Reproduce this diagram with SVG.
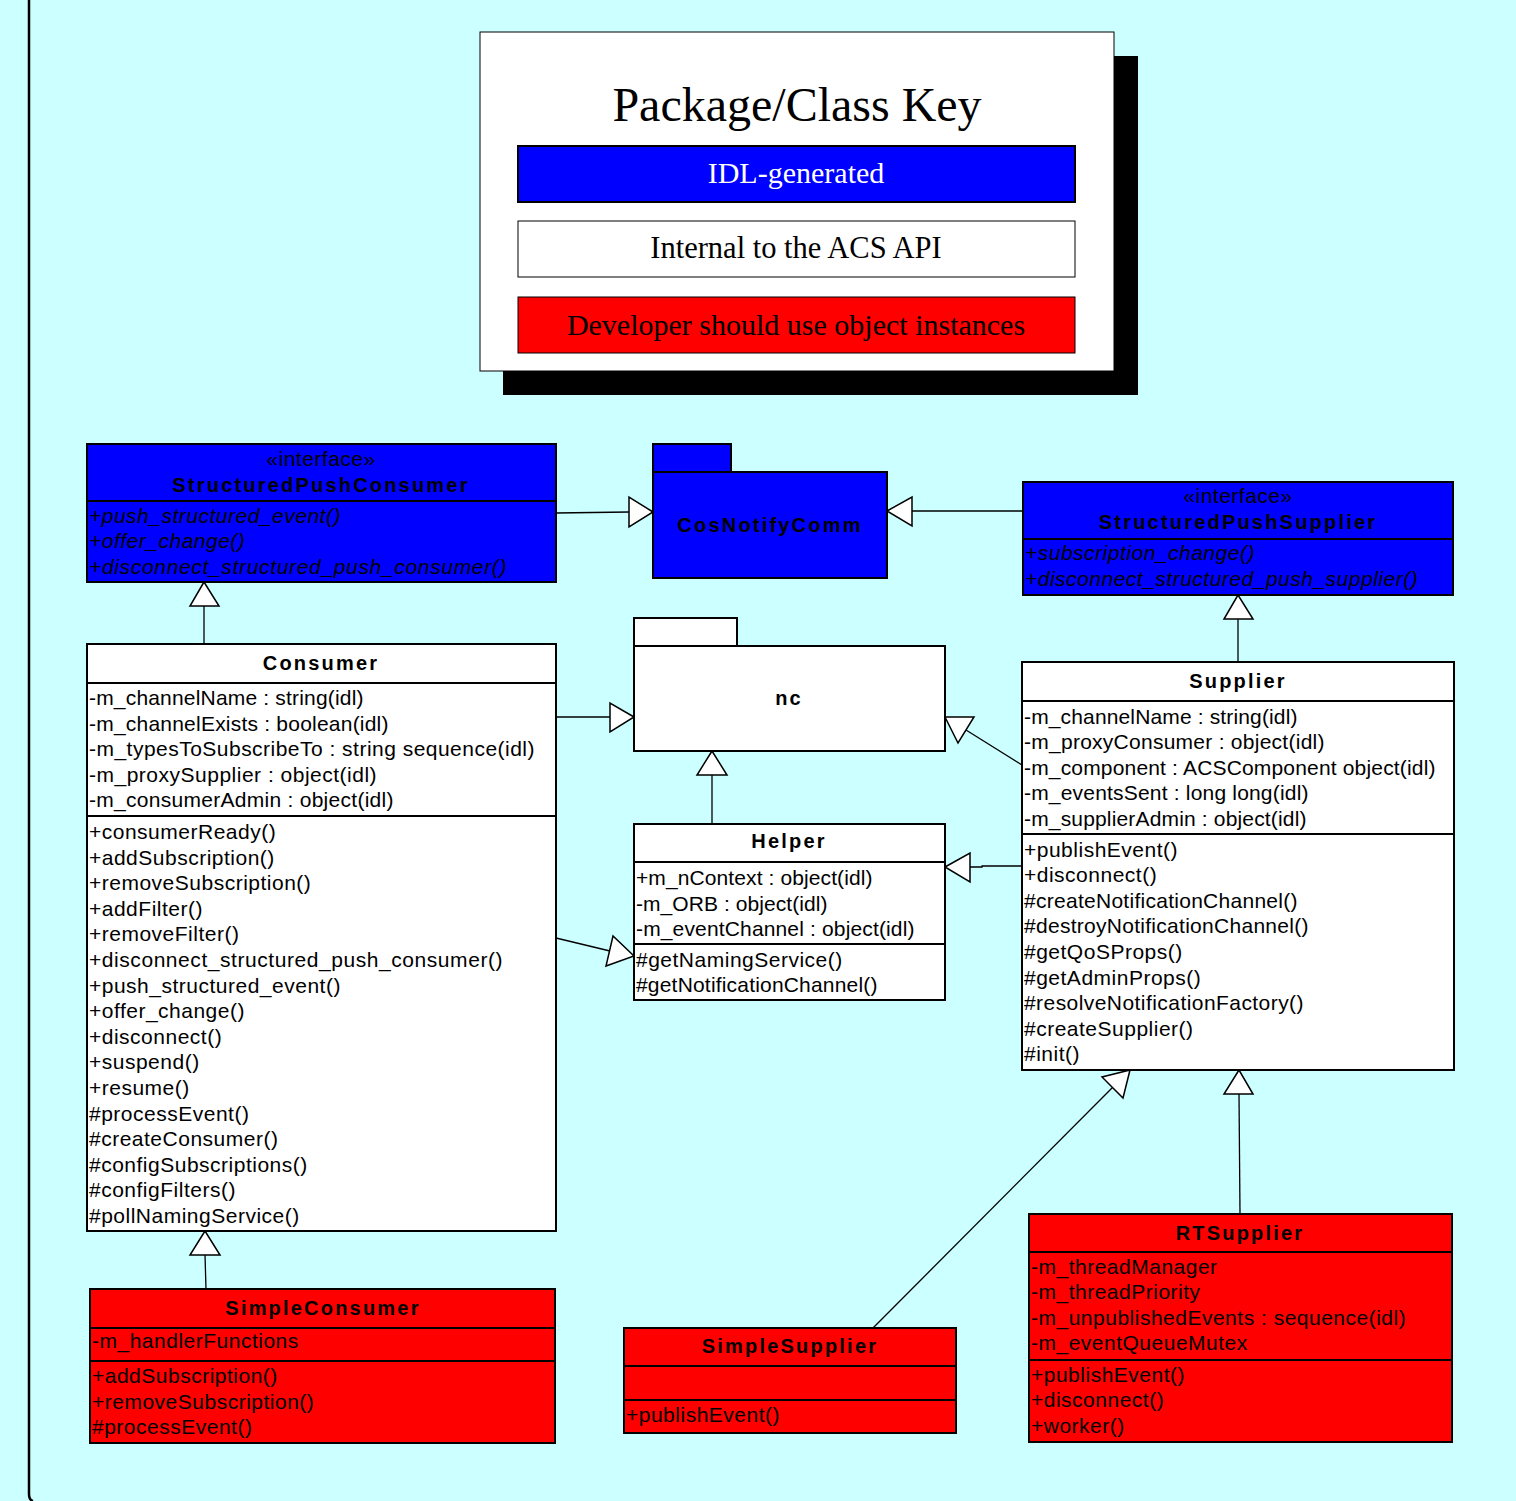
<svg xmlns="http://www.w3.org/2000/svg" width="1516" height="1501" viewBox="0 0 1516 1501">
<style>
.box{stroke:#000;stroke-width:2}
.w{fill:#fff}.b{fill:#0000ff}.r{fill:#ff0000}
.t{font-family:"Liberation Sans",Arial,sans-serif;font-size:21px;letter-spacing:0.5px;fill:#000}
.i{font-style:italic}
.n{font-family:"Liberation Sans",Arial,sans-serif;font-size:20px;font-weight:bold;letter-spacing:2.2px;fill:#000;text-anchor:middle}
.s{font-family:"Liberation Sans",Arial,sans-serif;font-size:21px;letter-spacing:0.5px;fill:#000;text-anchor:middle}
.k{font-family:"Liberation Serif","Times New Roman",serif;text-anchor:middle}
.ln{fill:none;stroke:#000;stroke-width:1.3}
.tri{fill:#fff;stroke:#000;stroke-width:1.5}
</style>
<rect width="1516" height="1501" fill="#ccffff"/>
<path d="M29,0 V1494 Q29,1500 33,1501" fill="none" stroke="#000" stroke-width="2.5"/>

<g id="key">
<rect x="503" y="56" width="635" height="339" fill="#000"/>
<rect x="480" y="32" width="634" height="339" fill="#fff" stroke="#000" stroke-width="1"/>
<text class="k" x="797" y="121" font-size="48">Package/Class Key</text>
<rect x="518" y="146" width="557" height="56" class="box b" stroke-width="1"/>
<text class="k" x="796" y="183" font-size="30" fill="#fff">IDL-generated</text>
<rect x="518" y="221" width="557" height="56" fill="#fff" stroke="#000" stroke-width="1"/>
<text class="k" x="796" y="258" font-size="30.5">Internal to the ACS API</text>
<rect x="518" y="297" width="557" height="56" class="r" stroke="#000" stroke-width="1"/>
<text class="k" x="796" y="335" font-size="30">Developer should use object instances</text>
</g>

<g id="connectors">
<line class="ln" x1="556" y1="513" x2="629" y2="512"/>
<polygon class="tri" points="653,512 629,497 629,527"/>
<line class="ln" x1="1023" y1="511" x2="912" y2="511"/>
<polygon class="tri" points="887,511 912,497 912,526"/>
<line class="ln" x1="204" y1="644" x2="204" y2="606"/>
<polygon class="tri" points="204,582 190,606 219,606"/>
<line class="ln" x1="556" y1="717" x2="610" y2="717"/>
<polygon class="tri" points="634,717 610,703 610,732"/>
<line class="ln" x1="556" y1="938" x2="610" y2="951"/>
<polygon class="tri" points="634,956 613,936 606,966"/>
<line class="ln" x1="712" y1="824" x2="712" y2="775"/>
<polygon class="tri" points="712,751 697,775 727,775"/>
<line class="ln" x1="1238" y1="662" x2="1238" y2="619"/>
<polygon class="tri" points="1238,595 1224,619 1253,619"/>
<line class="ln" x1="1022" y1="765" x2="966" y2="730"/>
<polygon class="tri" points="945,717 974,717 958,743"/>
<polyline class="ln" points="1022,866 982,866 982,867 970,867"/>
<polygon class="tri" points="945,867 970,853 970,882"/>
<line class="ln" x1="206" y1="1289" x2="205" y2="1255"/>
<polygon class="tri" points="205,1231 190,1255 220,1255"/>
<line class="ln" x1="873" y1="1328" x2="1113" y2="1087"/>
<polygon class="tri" points="1130,1070 1102,1077 1123,1098"/>
<line class="ln" x1="1240" y1="1214" x2="1239" y2="1094"/>
<polygon class="tri" points="1239,1070 1224,1094 1253,1094"/>
</g>

<g id="StructuredPushConsumer">
<rect x="87" y="444" width="469" height="138" class="box b"/>
<line x1="87" y1="501" x2="556" y2="501" stroke="#000" stroke-width="2"/>
<text class="s" x="321" y="466">«interface»</text>
<text class="n" x="321" y="492">StructuredPushConsumer</text>
<text class="t i" x="89" y="523">+push_structured_event()</text>
<text class="t i" x="89" y="548">+offer_change()</text>
<text class="t i" x="89" y="574" textLength="418">+disconnect_structured_push_consumer()</text>
</g>

<g id="CosNotifyComm">
<rect x="653" y="444" width="78" height="28" class="box b"/>
<rect x="653" y="472" width="234" height="106" class="box b"/>
<text class="n" x="770" y="532">CosNotifyComm</text>
</g>

<g id="StructuredPushSupplier">
<rect x="1023" y="482" width="430" height="113" class="box b"/>
<line x1="1023" y1="539" x2="1453" y2="539" stroke="#000" stroke-width="2"/>
<text class="s" x="1238" y="503">«interface»</text>
<text class="n" x="1238" y="529">StructuredPushSupplier</text>
<text class="t i" x="1025" y="560">+subscription_change()</text>
<text class="t i" x="1025" y="586">+disconnect_structured_push_supplier()</text>
</g>

<g id="nc">
<rect x="634" y="618" width="103" height="28" class="box w"/>
<rect x="634" y="646" width="311" height="105" class="box w"/>
<text class="n" x="789" y="705">nc</text>
</g>

<g id="Consumer">
<rect x="87" y="644" width="469" height="587" class="box w"/>
<line x1="87" y1="683" x2="556" y2="683" stroke="#000" stroke-width="2"/>
<line x1="87" y1="816" x2="556" y2="816" stroke="#000" stroke-width="2"/>
<text class="n" x="321" y="670">Consumer</text>
<text class="t" x="89" y="705" textLength="275">-m_channelName : string(idl)</text>
<text class="t" x="89" y="730.6" textLength="300">-m_channelExists : boolean(idl)</text>
<text class="t" x="89" y="756.2" textLength="446">-m_typesToSubscribeTo : string sequence(idl)</text>
<text class="t" x="89" y="781.8">-m_proxySupplier : object(idl)</text>
<text class="t" x="89" y="807.4" textLength="305">-m_consumerAdmin : object(idl)</text>
<text class="t" x="89" y="839">+consumerReady()</text>
<text class="t" x="89" y="864.6">+addSubscription()</text>
<text class="t" x="89" y="890.2">+removeSubscription()</text>
<text class="t" x="89" y="915.8">+addFilter()</text>
<text class="t" x="89" y="941.4">+removeFilter()</text>
<text class="t" x="89" y="967" textLength="414">+disconnect_structured_push_consumer()</text>
<text class="t" x="89" y="992.6">+push_structured_event()</text>
<text class="t" x="89" y="1018.2">+offer_change()</text>
<text class="t" x="89" y="1043.8">+disconnect()</text>
<text class="t" x="89" y="1069.4">+suspend()</text>
<text class="t" x="89" y="1095">+resume()</text>
<text class="t" x="89" y="1120.6">#processEvent()</text>
<text class="t" x="89" y="1146.2">#createConsumer()</text>
<text class="t" x="89" y="1171.8">#configSubscriptions()</text>
<text class="t" x="89" y="1197.4">#configFilters()</text>
<text class="t" x="89" y="1223">#pollNamingService()</text>
</g>

<g id="Helper">
<rect x="634" y="824" width="311" height="176" class="box w"/>
<line x1="634" y1="862" x2="945" y2="862" stroke="#000" stroke-width="2"/>
<line x1="634" y1="944" x2="945" y2="944" stroke="#000" stroke-width="2"/>
<text class="n" x="789" y="848">Helper</text>
<text class="t" x="636" y="885" textLength="237">+m_nContext : object(idl)</text>
<text class="t" x="636" y="910.5" textLength="192">-m_ORB : object(idl)</text>
<text class="t" x="636" y="936" textLength="279">-m_eventChannel : object(idl)</text>
<text class="t" x="636" y="966.5">#getNamingService()</text>
<text class="t" x="636" y="992" textLength="242">#getNotificationChannel()</text>
</g>

<g id="Supplier">
<rect x="1022" y="662" width="432" height="408" class="box w"/>
<line x1="1022" y1="701" x2="1454" y2="701" stroke="#000" stroke-width="2"/>
<line x1="1022" y1="834" x2="1454" y2="834" stroke="#000" stroke-width="2"/>
<text class="n" x="1238" y="688">Supplier</text>
<text class="t" x="1024" y="723.5" textLength="274">-m_channelName : string(idl)</text>
<text class="t" x="1024" y="749" textLength="301">-m_proxyConsumer : object(idl)</text>
<text class="t" x="1024" y="774.5" textLength="412">-m_component : ACSComponent object(idl)</text>
<text class="t" x="1024" y="800" textLength="285">-m_eventsSent : long long(idl)</text>
<text class="t" x="1024" y="825.5" textLength="283">-m_supplierAdmin : object(idl)</text>
<text class="t" x="1024" y="856.5">+publishEvent()</text>
<text class="t" x="1024" y="882.1">+disconnect()</text>
<text class="t" x="1024" y="907.7" textLength="274">#createNotificationChannel()</text>
<text class="t" x="1024" y="933.3" textLength="285">#destroyNotificationChannel()</text>
<text class="t" x="1024" y="958.9">#getQoSProps()</text>
<text class="t" x="1024" y="984.5">#getAdminProps()</text>
<text class="t" x="1024" y="1010.1" textLength="280">#resolveNotificationFactory()</text>
<text class="t" x="1024" y="1035.7">#createSupplier()</text>
<text class="t" x="1024" y="1061.3">#init()</text>
</g>

<g id="SimpleConsumer">
<rect x="90" y="1289" width="465" height="154" class="box r"/>
<line x1="90" y1="1328" x2="555" y2="1328" stroke="#000" stroke-width="2"/>
<line x1="90" y1="1361" x2="555" y2="1361" stroke="#000" stroke-width="2"/>
<text class="n" x="323" y="1315">SimpleConsumer</text>
<text class="t" x="92" y="1348">-m_handlerFunctions</text>
<text class="t" x="92" y="1383">+addSubscription()</text>
<text class="t" x="92" y="1408.5">+removeSubscription()</text>
<text class="t" x="92" y="1434">#processEvent()</text>
</g>

<g id="SimpleSupplier">
<rect x="624" y="1328" width="332" height="105" class="box r"/>
<line x1="624" y1="1366" x2="956" y2="1366" stroke="#000" stroke-width="2"/>
<line x1="624" y1="1400" x2="956" y2="1400" stroke="#000" stroke-width="2"/>
<text class="n" x="790" y="1353">SimpleSupplier</text>
<text class="t" x="626" y="1422">+publishEvent()</text>
</g>

<g id="RTSupplier">
<rect x="1029" y="1214" width="423" height="228" class="box r"/>
<line x1="1029" y1="1252" x2="1452" y2="1252" stroke="#000" stroke-width="2"/>
<line x1="1029" y1="1360" x2="1452" y2="1360" stroke="#000" stroke-width="2"/>
<text class="n" x="1240" y="1240">RTSupplier</text>
<text class="t" x="1031" y="1273.5">-m_threadManager</text>
<text class="t" x="1031" y="1299">-m_threadPriority</text>
<text class="t" x="1031" y="1324.5">-m_unpublishedEvents : sequence(idl)</text>
<text class="t" x="1031" y="1350">-m_eventQueueMutex</text>
<text class="t" x="1031" y="1381.5">+publishEvent()</text>
<text class="t" x="1031" y="1407">+disconnect()</text>
<text class="t" x="1031" y="1432.5">+worker()</text>
</g>
</svg>
